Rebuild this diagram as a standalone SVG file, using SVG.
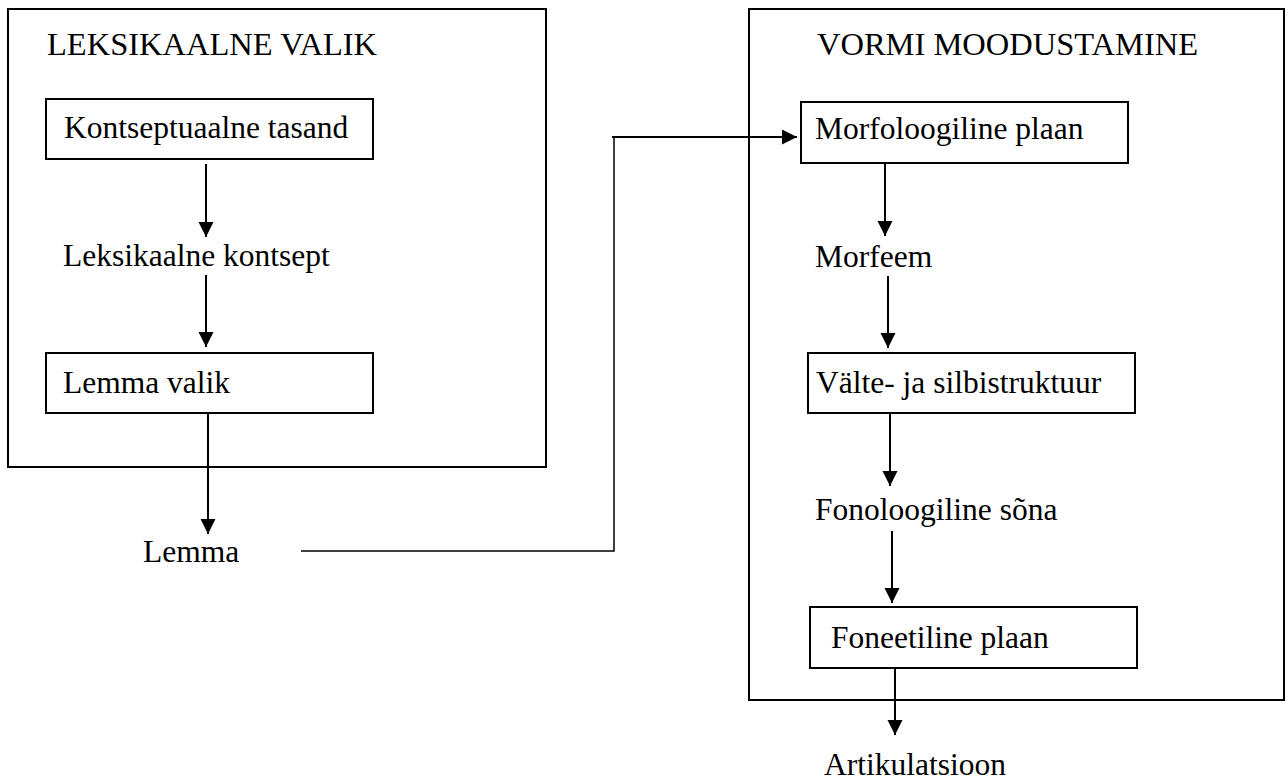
<svg xmlns="http://www.w3.org/2000/svg" width="1287" height="780" viewBox="0 0 1287 780">
<style>
text{font-family:"Liberation Serif","Times New Roman",serif;font-size:31.5px;fill:#000}
.title{font-size:32.5px}
.frame{fill:none;stroke:#000;stroke-width:2}
.box{fill:#fff;stroke:#000;stroke-width:2}
.arr{fill:none;stroke:#000;stroke-width:2;marker-end:url(#ah)}
.thin{fill:none;stroke:#000;stroke-width:1.5}
</style>
<defs>
<marker id="ah" markerUnits="userSpaceOnUse" markerWidth="16" markerHeight="16" refX="15" refY="7.5" orient="auto">
<path d="M0,0 L15,7.5 L0,15 z" fill="#000"/>
</marker>
</defs>
<rect width="1287" height="780" fill="#fff"/>
<g id="leksikaalne-valik">
<rect class="frame" x="8" y="9" width="538" height="458"/>
<text class="title" x="47" y="55">LEKSIKAALNE VALIK</text>
</g>
<g id="vormi-moodustamine">
<rect class="frame" x="749" y="9" width="535" height="691"/>
<text class="title" x="817" y="55">VORMI MOODUSTAMINE</text>
</g>
<g id="connectors">
<path class="arr" d="M206,164 V237"/>
<path class="arr" d="M206,275 V347"/>
<path class="arr" d="M208,413 V534"/>
<path class="thin" d="M301,551 H614 V137 H780"/>
<path class="arr" d="M612,137 H797"/>
<path class="arr" d="M885,163 V236"/>
<path class="arr" d="M888,276 V348"/>
<path class="arr" d="M890,413 V486"/>
<path class="arr" d="M892,531 V603"/>
<path class="arr" d="M895,668 V735"/>
</g>
<g id="kontseptuaalne-tasand">
<rect class="box" x="46" y="99" width="327" height="60"/>
<text x="64" y="138">Kontseptuaalne tasand</text>
</g>
<g id="leksikaalne-kontsept">
<text x="63" y="266">Leksikaalne kontsept</text>
</g>
<g id="lemma-valik">
<rect class="box" x="46" y="353" width="327" height="60"/>
<text x="63" y="393">Lemma valik</text>
</g>
<g id="lemma">
<text x="143" y="562">Lemma</text>
</g>
<g id="morfoloogiline-plaan">
<rect class="box" x="801" y="102" width="327" height="61"/>
<text x="815" y="139">Morfoloogiline plaan</text>
</g>
<g id="morfeem">
<text x="815" y="267">Morfeem</text>
</g>
<g id="valte-ja-silbistruktuur">
<rect class="box" x="808" y="353" width="327" height="60"/>
<text x="816" y="393">Välte- ja silbistruktuur</text>
</g>
<g id="fonoloogiline-sona">
<text x="815" y="520">Fonoloogiline sõna</text>
</g>
<g id="foneetiline-plaan">
<rect class="box" x="810" y="607" width="327" height="61"/>
<text x="831" y="648">Foneetiline plaan</text>
</g>
<g id="artikulatsioon">
<text x="824" y="775">Artikulatsioon</text>
</g>
</svg>
